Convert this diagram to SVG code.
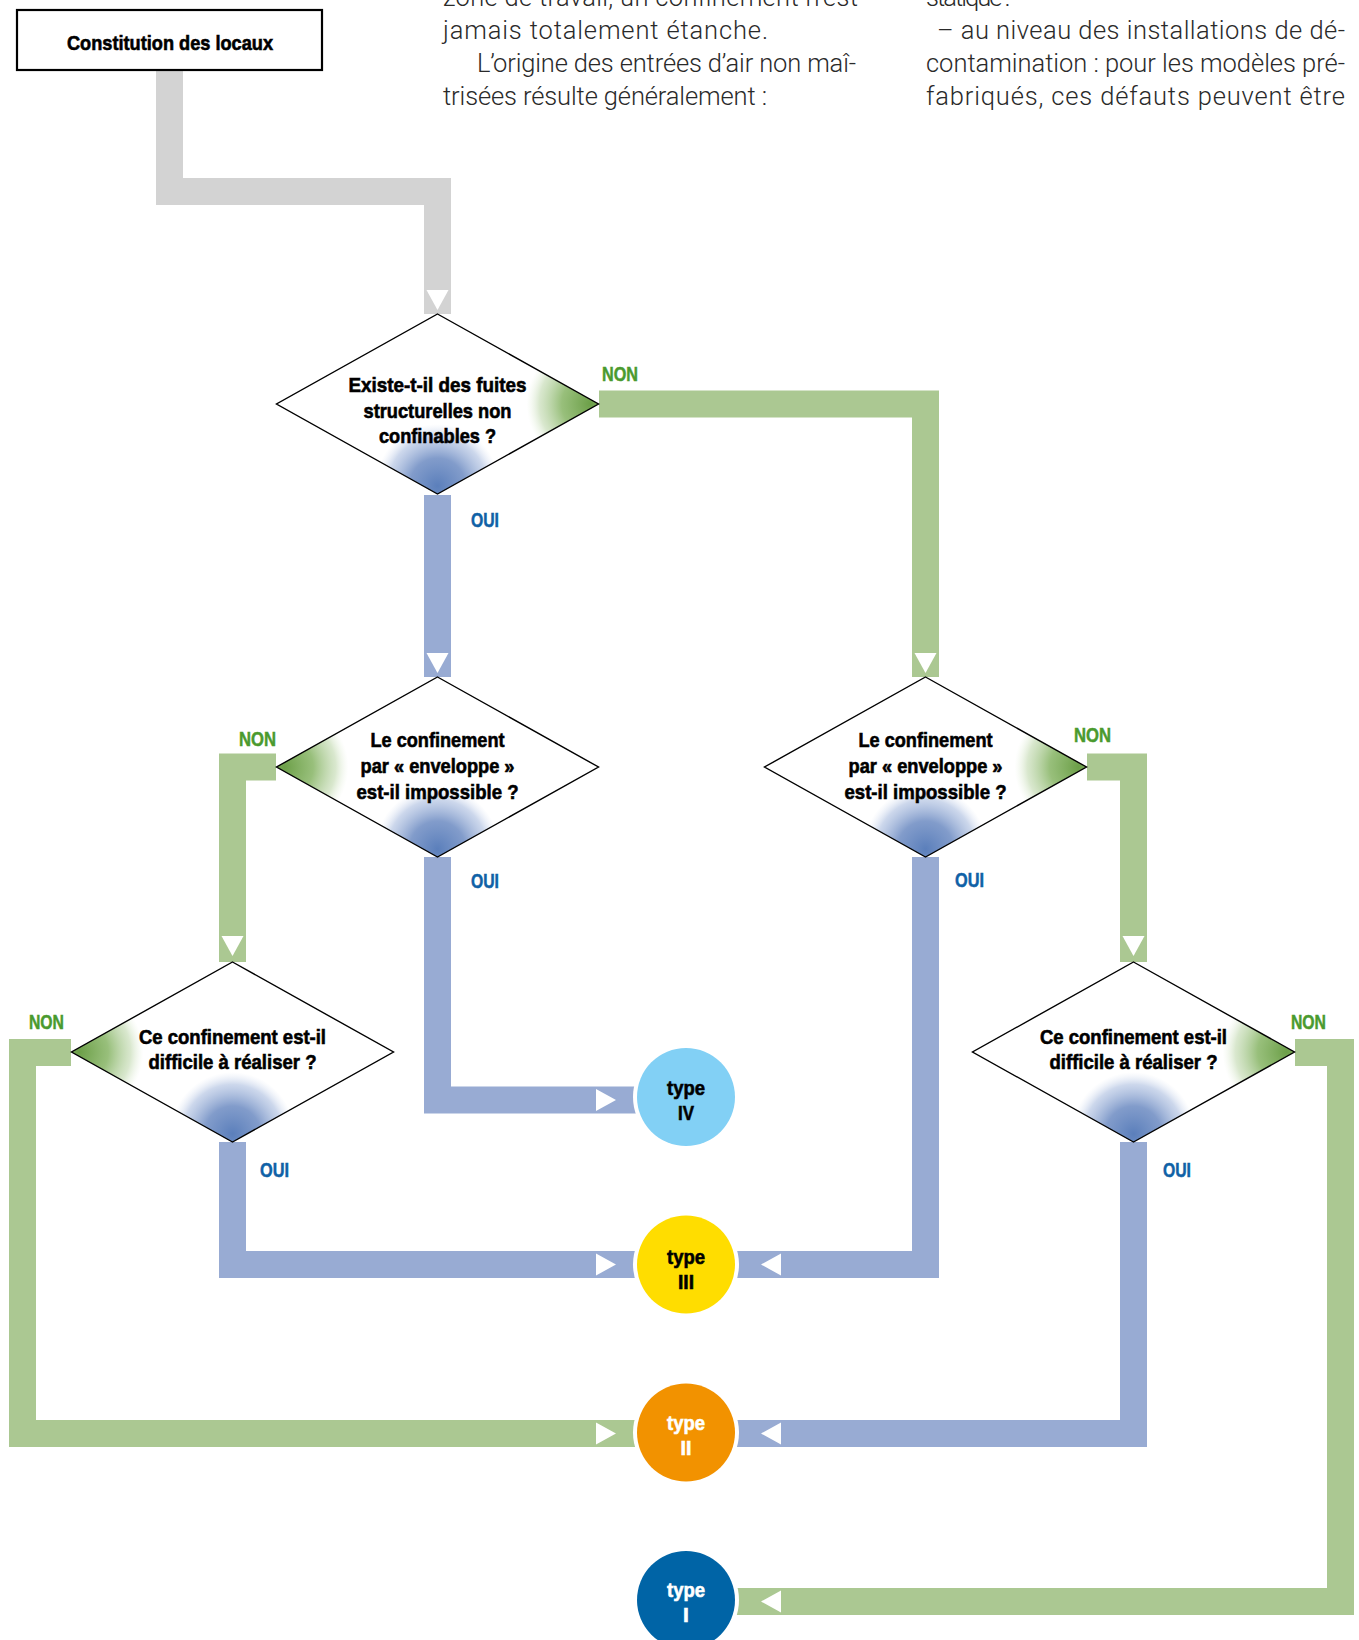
<svg xmlns="http://www.w3.org/2000/svg" xmlns:xlink="http://www.w3.org/1999/xlink" width="1359" height="1640" viewBox="0 0 1359 1640">
<style>
.body{font-family:Roboto,"Liberation Sans",Arial,sans-serif;font-weight:300;font-size:25.5px;fill:#2a2a2a}
.q{font-family:"Liberation Sans",Arial,sans-serif;font-weight:bold;font-size:20.5px;fill:#000;stroke:#000;stroke-width:0.6;text-anchor:middle}
.lbl{font-family:"Liberation Sans",Arial,sans-serif;font-weight:bold;font-size:20.5px;stroke-width:0.5}
.non{fill:#4a9a2e;stroke:#4a9a2e}
.oui{fill:#0f61a6;stroke:#0f61a6}
.band{fill:none;stroke-width:27;stroke-linejoin:miter;stroke-linecap:butt}
.gray{stroke:#d3d3d3}
.blue{stroke:#98abd3}
.green{stroke:#abc892}
.arr{fill:#fff}
.dia{fill:#fff}
.dline{fill:none;stroke:#000;stroke-width:1.4;stroke-linejoin:miter}
.ring{fill:#fff}
.ct{font-family:"Liberation Sans",Arial,sans-serif;font-weight:bold;font-size:21px;text-anchor:middle;stroke-width:0.6}
.dk{fill:#000;stroke:#000}
.wt{fill:#fff;stroke:#fff}
</style>
<defs>
<radialGradient id="gBlue">
<stop offset="0" stop-color="#5b7fbb" stop-opacity="1"/>
<stop offset="0.45" stop-color="#7491c5" stop-opacity="0.9"/>
<stop offset="0.8" stop-color="#a3b7dc" stop-opacity="0.55"/>
<stop offset="1" stop-color="#d0dbef" stop-opacity="0"/>
</radialGradient>
<radialGradient id="gGreen">
<stop offset="0" stop-color="#6c9f48" stop-opacity="1"/>
<stop offset="0.45" stop-color="#86b464" stop-opacity="0.85"/>
<stop offset="0.8" stop-color="#b3d09d" stop-opacity="0.5"/>
<stop offset="1" stop-color="#dcebd0" stop-opacity="0"/>
</radialGradient>
<polygon id="dshape" points="0,-90 161,0 0,90 -161,0"/>
<clipPath id="dclip"><use xlink:href="#dshape"/></clipPath>
<polygon id="adown" points="-11,-20 11,-20 0,0"/>
<polygon id="aright" points="0,-11 0,11 20,0"/>
<polygon id="aleft" points="20,-11 20,11 0,0"/>
</defs>

<g id="body-text">
<text class="body" x="443" y="6" textLength="415">zone de travail, un confinement n’est</text>
<text class="body" x="443" y="39" textLength="325">jamais totalement étanche.</text>
<text class="body" x="477" y="72" textLength="379">L’origine des entrées d’air non maî-</text>
<text class="body" x="443" y="104.5" textLength="324">trisées résulte généralement :</text>
<text class="body" x="926" y="6" textLength="84">statique :</text>
<text class="body" x="937" y="39" textLength="408">– au niveau des installations de dé-</text>
<text class="body" x="926" y="72" textLength="419">contamination : pour les modèles pré-</text>
<text class="body" x="926" y="104.5" textLength="419">fabriqués, ces défauts peuvent être</text>
</g>

<g id="connectors">
<path class="band gray" d="M169.5,71 V191.5 H437.5 V314"/>
<path class="band blue" d="M437.5,495 V677"/>
<path class="band green" d="M599,404 H925.5 V677"/>
<path class="band green" d="M276,767 H232.5 V962"/>
<path class="band blue" d="M437.5,857 V1100 H640"/>
<path class="band green" d="M1087,767 H1133.5 V962"/>
<path class="band blue" d="M925.5,857 V1264.5 H732"/>
<path class="band green" d="M71,1052.5 H22.5 V1433.5 H640"/>
<path class="band blue" d="M232.5,1142 V1264.5 H640"/>
<path class="band green" d="M1295,1052.5 H1340.5 V1601.5 H732"/>
<path class="band blue" d="M1133.5,1142 V1433.5 H732"/>
<use xlink:href="#adown" class="arr" x="437.5" y="310"/>
<use xlink:href="#adown" class="arr" x="437.5" y="673"/>
<use xlink:href="#adown" class="arr" x="925.5" y="673"/>
<use xlink:href="#adown" class="arr" x="232.5" y="956"/>
<use xlink:href="#adown" class="arr" x="1133.5" y="956"/>
<use xlink:href="#aright" class="arr" x="596" y="1100"/>
<use xlink:href="#aright" class="arr" x="596" y="1264.5"/>
<use xlink:href="#aright" class="arr" x="596" y="1433.5"/>
<use xlink:href="#aleft" class="arr" x="761" y="1264.5"/>
<use xlink:href="#aleft" class="arr" x="761" y="1433.5"/>
<use xlink:href="#aleft" class="arr" x="761" y="1601.5"/>
<text class="lbl non" x="602" y="381" textLength="36" lengthAdjust="spacingAndGlyphs">NON</text>
<text class="lbl oui" x="471" y="527" textLength="28" lengthAdjust="spacingAndGlyphs">OUI</text>
<text class="lbl non" x="239" y="746" textLength="37" lengthAdjust="spacingAndGlyphs">NON</text>
<text class="lbl oui" x="471" y="888" textLength="28" lengthAdjust="spacingAndGlyphs">OUI</text>
<text class="lbl non" x="1074" y="742" textLength="37" lengthAdjust="spacingAndGlyphs">NON</text>
<text class="lbl oui" x="955" y="887" textLength="29" lengthAdjust="spacingAndGlyphs">OUI</text>
<text class="lbl non" x="29" y="1029" textLength="35" lengthAdjust="spacingAndGlyphs">NON</text>
<text class="lbl oui" x="260" y="1177" textLength="29" lengthAdjust="spacingAndGlyphs">OUI</text>
<text class="lbl non" x="1291" y="1029" textLength="35" lengthAdjust="spacingAndGlyphs">NON</text>
<text class="lbl oui" x="1163" y="1177" textLength="28" lengthAdjust="spacingAndGlyphs">OUI</text>
</g>

<g id="start">
<rect x="17" y="10" width="305" height="60" fill="#fff" stroke="#000" stroke-width="2.2"/>
<text class="q" x="170" y="50" font-size="21.5" textLength="206" lengthAdjust="spacingAndGlyphs">Constitution des locaux</text>
</g>

<g id="q1" transform="translate(437.5,404)">
<use xlink:href="#dshape" class="dia"/>
<g clip-path="url(#dclip)">
<circle cx="0" cy="82" r="62" fill="url(#gBlue)"/>
<circle cx="153" cy="0" r="64" fill="url(#gGreen)"/>
</g>
<use xlink:href="#dshape" class="dline"/>
<text class="q" x="0" y="-12" textLength="178" lengthAdjust="spacingAndGlyphs">Existe-t-il des fuites</text>
<text class="q" x="0" y="13.5" textLength="148" lengthAdjust="spacingAndGlyphs">structurelles non</text>
<text class="q" x="0" y="39" textLength="117" lengthAdjust="spacingAndGlyphs">confinables ?</text>
</g>

<g id="q2" transform="translate(437.5,767)">
<use xlink:href="#dshape" class="dia"/>
<g clip-path="url(#dclip)">
<circle cx="0" cy="82" r="62" fill="url(#gBlue)"/>
<circle cx="-153" cy="0" r="64" fill="url(#gGreen)"/>
</g>
<use xlink:href="#dshape" class="dline"/>
<text class="q" x="0" y="-20" textLength="134" lengthAdjust="spacingAndGlyphs">Le confinement</text>
<text class="q" x="0" y="6" textLength="154" lengthAdjust="spacingAndGlyphs">par « enveloppe »</text>
<text class="q" x="0" y="31.5" textLength="162" lengthAdjust="spacingAndGlyphs">est-il impossible ?</text>
</g>

<g id="q3" transform="translate(925.5,767)">
<use xlink:href="#dshape" class="dia"/>
<g clip-path="url(#dclip)">
<circle cx="0" cy="82" r="62" fill="url(#gBlue)"/>
<circle cx="153" cy="0" r="64" fill="url(#gGreen)"/>
</g>
<use xlink:href="#dshape" class="dline"/>
<text class="q" x="0" y="-20" textLength="134" lengthAdjust="spacingAndGlyphs">Le confinement</text>
<text class="q" x="0" y="6" textLength="154" lengthAdjust="spacingAndGlyphs">par « enveloppe »</text>
<text class="q" x="0" y="31.5" textLength="162" lengthAdjust="spacingAndGlyphs">est-il impossible ?</text>
</g>

<g id="q4" transform="translate(232.5,1052)">
<use xlink:href="#dshape" class="dia"/>
<g clip-path="url(#dclip)">
<circle cx="0" cy="82" r="62" fill="url(#gBlue)"/>
<circle cx="-153" cy="0" r="64" fill="url(#gGreen)"/>
</g>
<use xlink:href="#dshape" class="dline"/>
<text class="q" x="0" y="-8" textLength="187" lengthAdjust="spacingAndGlyphs">Ce confinement est-il</text>
<text class="q" x="0" y="17" textLength="168" lengthAdjust="spacingAndGlyphs">difficile à réaliser ?</text>
</g>

<g id="q5" transform="translate(1133.5,1052)">
<use xlink:href="#dshape" class="dia"/>
<g clip-path="url(#dclip)">
<circle cx="0" cy="82" r="62" fill="url(#gBlue)"/>
<circle cx="153" cy="0" r="64" fill="url(#gGreen)"/>
</g>
<use xlink:href="#dshape" class="dline"/>
<text class="q" x="0" y="-8" textLength="187" lengthAdjust="spacingAndGlyphs">Ce confinement est-il</text>
<text class="q" x="0" y="17" textLength="168" lengthAdjust="spacingAndGlyphs">difficile à réaliser ?</text>
</g>

<g id="type4" transform="translate(686,1097)">
<circle class="ring" r="53"/>
<circle r="49" fill="#82d0f5"/>
<text class="ct dk" x="0" y="-2" textLength="38" lengthAdjust="spacingAndGlyphs">type</text>
<text class="ct dk" x="0" y="23" textLength="16" lengthAdjust="spacingAndGlyphs">IV</text>
</g>

<g id="type3" transform="translate(686,1264.5)">
<circle class="ring" r="53"/>
<circle r="49" fill="#ffdd00"/>
<text class="ct dk" x="0" y="-1" textLength="38" lengthAdjust="spacingAndGlyphs">type</text>
<text class="ct dk" x="0" y="24" textLength="16" lengthAdjust="spacingAndGlyphs">III</text>
</g>

<g id="type2" transform="translate(686,1432.5)">
<circle class="ring" r="53"/>
<circle r="49" fill="#f29200"/>
<text class="ct wt" x="0" y="-3" textLength="38" lengthAdjust="spacingAndGlyphs">type</text>
<text class="ct wt" x="0" y="22" textLength="11" lengthAdjust="spacingAndGlyphs">II</text>
</g>

<g id="type1" transform="translate(686,1600)">
<circle class="ring" r="53"/>
<circle r="49" fill="#0064a6"/>
<text class="ct wt" x="0" y="-3" textLength="38" lengthAdjust="spacingAndGlyphs">type</text>
<text class="ct wt" x="0" y="22">I</text>
</g>
</svg>
